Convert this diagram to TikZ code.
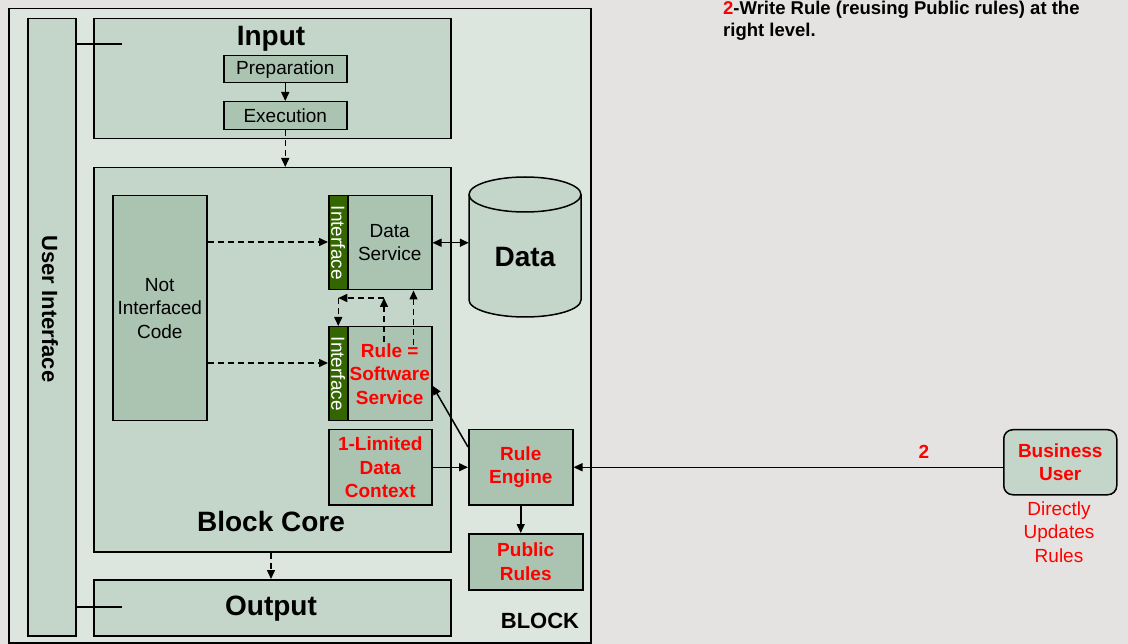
\documentclass[tikz,border=0pt]{standalone}
\usepackage{fontspec}
\setmainfont{Liberation Sans}
\usetikzlibrary{arrows.meta,calc}
\definecolor{bgc}{HTML}{E4E3E1}
\definecolor{blockc}{HTML}{DDE6DE}
\definecolor{midc}{HTML}{C4D6C9}
\definecolor{innc}{HTML}{ABC4B1}
\definecolor{ifc}{HTML}{336600}
\definecolor{redc}{HTML}{FF0000}
\newcommand{\bxn}[7][]{\node[bx,#1,minimum width={#5pt-#3pt},minimum height={#6pt-#4pt}] (#2) at (#3,#4) {#7};}
\begin{document}
\begin{tikzpicture}[x=1pt,y=-1pt,
  bx/.style={draw=black, line width=1.5pt, inner sep=0pt, anchor=north west, align=center},
  reg/.style={font=\fontsize{19}{23.5}\selectfont},
  redb/.style={text=redc, font=\bfseries\fontsize{19}{23.5}\selectfont},
  big/.style={font=\bfseries\fontsize{28}{32}\selectfont},
  conn/.style={line width=1.5pt, draw=black},
  tip/.style={-{Triangle[length=9pt,width=8pt]}},
  dsh/.style={dash pattern=on 6pt off 4pt}]
\useasboundingbox (0,0) rectangle (1128,644);
\fill[bgc] (0,0) rectangle (1128,644);

% outer block
\bxn[fill=blockc]{block}{8}{8}{590}{642}{}
\node[font=\bfseries\fontsize{22}{26}\selectfont] (blockt) at (540,621) {BLOCK};

% user interface bar
\bxn[fill=midc]{ui}{27}{18}{75}{635}{}
\node[rotate=-90, font=\bfseries\fontsize{22}{26}\selectfont] (uit) at (50,309) {User Interface};

% input
\bxn[fill=midc]{input}{93}{18}{450}{138}{}
\node[big] (inputt) at (271,39) {Input};
\bxn[fill=innc,reg]{prep}{223}{55}{346}{82}{Preparation}
\bxn[fill=innc,reg]{exec}{223}{101}{346}{129}{Execution}

% block core
\bxn[fill=midc]{core}{93}{167}{450}{551}{}
\node[big] (coret) at (271,521) {Block Core};
\bxn[fill=innc,reg]{nic}{112}{195}{206}{420}{Not\\Interfaced\\Code}
\bxn[fill=ifc]{ifd}{328}{195}{347}{289}{}
\node[rotate=-90, text=white, reg] (ifdt) at (ifd.center) {Interface};
\bxn[fill=innc,reg]{dserv}{347}{195}{431}{289}{Data\\Service}
\bxn[fill=ifc]{ifr}{328}{326}{347}{420}{}
\node[rotate=-90, text=white, reg] (ifrt) at (ifr.center) {Interface};
\bxn[fill=innc,redb]{rule}{347}{326}{431}{420}{Rule =\\Software\\Service}
\bxn[fill=innc,redb]{ldc}{328}{429}{431}{504}{1-Limited\\Data\\Context}

% data cylinder
\node[inner sep=0pt, minimum width=112pt, minimum height=140pt] (data) at (525,247) {};
\filldraw[fill=midc, line width=1.5pt] (469,194.5) -- (469,300)
  arc[start angle=180, end angle=360, x radius=56pt, y radius=17pt] -- (581,194.5)
  arc[start angle=0, end angle=180, x radius=56pt, y radius=17.5pt] -- cycle;
\draw[line width=1.5pt] (469,194.5) arc[start angle=180, end angle=360, x radius=56pt, y radius=17.5pt];
\node[big] (datat) at (525,257) {Data};

% rule engine, public rules
\bxn[fill=innc,redb]{reng}{468}{429}{572}{504}{Rule\\Engine}
\bxn[fill=innc,redb]{pub}{468}{533}{582}{589}{Public\\Rules}

% output
\bxn[fill=midc]{output}{93}{579}{450}{635}{}
\node[big] (outputt) at (271,609) {Output};

% business user
\bxn[fill=midc,redb,rounded corners=9pt]{bu}{1003}{429}{1116}{494}{Business\\User}
\node[text=redc, reg, align=center] (dur) at (1059,532) {Directly\\Updates\\Rules};
\node[redb] (two) at (924,452) {2};

% note
\node[anchor=north west, align=left, inner sep=0pt, font=\bfseries\fontsize{18.5}{22}\selectfont] (note) at (723,1)
  {\textcolor{redc}{2}-Write Rule (reusing Public rules) at the\\right level.};

% connectors
\coordinate (uiin) at (122,44);
\coordinate (uiout) at (122,607);
\draw[conn] (uiin -| ui.east) -- (uiin);
\draw[conn] (uiout -| ui.east) -- (uiout);
\draw[conn,tip] (prep.south) -- (exec.north);
\draw[conn,tip,dsh] (exec.south) -- (exec.south |- core.north);
\draw[conn,tip,dsh] (coret.center |- core.south) -- (coret.center |- output.north);
\draw[conn,tip,dsh] ([yshift=-47pt]nic.north east) -- ([yshift=-47pt]nic.north east -| ifd.west);
\draw[conn,tip,dsh] ([yshift=-168pt]nic.north east) -- ([yshift=-168pt]nic.north east -| ifr.west);
\draw[conn,{Triangle[length=9pt,width=8pt]}-{Triangle[length=9pt,width=8pt]}] (dserv.east) -- (dserv.east -| data.west);
\draw[conn,tip,dsh] ([shift={(-19pt,-19pt)}]rule.north east) -- ([xshift=-19pt]dserv.south east);
\coordinate (k) at (384,298);
\coordinate (kc) at (ifr.north |- k);
\draw[conn,tip,dsh] (384,342) -- (k);
\draw[conn,tip,dsh] (k) -- (kc);
\draw[conn,tip,dsh] (kc) -- (ifr.north);
\draw[conn,tip] ([yshift=-18pt]reng.north west) -- ([yshift=-12pt]rule.east);
\draw[conn,tip] (ldc.east) -- (ldc.east -| reng.west);
\draw[conn,tip] (reng.south) -- (reng.south |- pub.north);
\draw[conn,tip] (bu.west |- reng.east) -- (reng.east);
\end{tikzpicture}
\end{document}
